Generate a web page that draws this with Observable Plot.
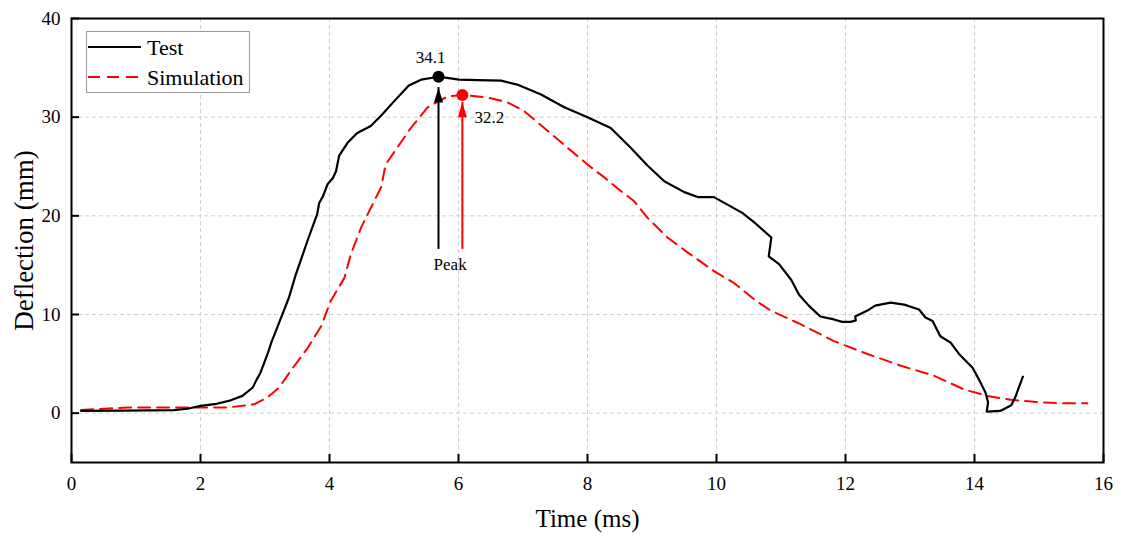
<!DOCTYPE html>
<html>
<head>
<meta charset="utf-8">
<script src="https://cdn.jsdelivr.net/npm/d3@7"></script>
<script src="https://cdn.jsdelivr.net/npm/@observablehq/plot@0.6"></script>
<style>
  html, body { margin: 0; padding: 0; background: white; }
  #wrap { position: relative; width: 1121px; height: 544px; }
  #legend { position: absolute; left: 86px; top: 31px; }
</style>
</head>
<body>
<div id="wrap"></div>
<script>
// ---- data ----
const testX = [0.15,0.8,1.59,1.8,2.0,2.25,2.47,2.65,2.81,2.87,2.93,3.04,3.10,3.19,3.28,3.37,3.43,3.48,3.55,3.66,3.81,3.84,3.90,3.97,4.05,4.10,4.15,4.28,4.43,4.64,4.82,5.00,5.23,5.42,5.69,6.01,6.30,6.66,6.91,7.28,7.64,8.0,8.36,8.67,8.93,9.19,9.50,9.71,9.96,10.40,10.61,10.85,10.81,10.97,11.16,11.28,11.43,11.61,11.82,11.95,12.08,12.16,12.15,12.34,12.46,12.70,12.91,13.14,13.24,13.35,13.47,13.63,13.76,13.97,14.07,14.17,14.21,14.19,14.40,14.57,14.64,14.75];
const testY = [0.23,0.25,0.3,0.45,0.74,0.95,1.3,1.75,2.6,3.4,4.1,6.0,7.2,8.7,10.2,11.7,13.0,14.1,15.4,17.5,20.2,21.3,22.0,23.2,23.8,24.5,26.1,27.4,28.4,29.1,30.3,31.6,33.2,33.8,34.1,33.8,33.75,33.7,33.3,32.3,31.0,30.0,28.9,26.9,25.1,23.5,22.4,21.9,21.9,20.3,19.2,17.8,15.9,15.1,13.5,12.0,10.9,9.8,9.5,9.25,9.25,9.4,9.8,10.4,10.9,11.2,11.0,10.5,9.7,9.35,7.8,7.15,6.0,4.6,3.4,2.1,1.1,0.16,0.23,0.8,1.75,3.7];
const simX = [0.15,0.87,1.64,2.42,2.83,3.04,3.22,3.40,3.66,3.87,4.02,4.23,4.33,4.49,4.64,4.80,4.87,5.05,5.26,5.52,5.83,6.06,6.45,6.76,7.02,7.33,7.69,8.0,8.26,8.52,8.72,8.93,9.24,9.55,9.96,10.27,10.61,10.84,11.31,11.82,12.34,12.86,13.37,13.84,14.20,14.56,14.92,15.34,15.75];
const simY = [0.33,0.57,0.57,0.57,0.9,1.6,2.6,4.3,6.6,8.8,11.4,13.7,16.1,18.8,20.8,22.9,25.2,26.9,28.9,31.0,32.1,32.25,32.0,31.5,30.6,28.9,26.9,25.2,23.9,22.5,21.5,19.8,17.8,16.3,14.4,13.2,11.4,10.4,9.0,7.3,6.0,4.8,3.8,2.4,1.75,1.35,1.15,1.0,1.0];

const seriesNames = ["Test", "Simulation"];
const seriesColors = ["black", "red"];
const peakX = [5.69, 6.06];
const peakY = [34.1, 32.25];
const peakLabels = ["34.1", "32.2"];
const arrowBase = 16.6;
const arrowTip = [33.0, 31.5];
const peakText = "Peak";
const peakTextX = 5.87;
const peakTextY = 15.1;

const xTicks = [0, 2, 4, 6, 8, 10, 12, 14, 16];
const yTicks = [0, 10, 20, 30, 40];
const xGrid = [2, 4, 6, 8, 10, 12, 14];
const yGrid = [0, 10, 20, 30];
const xLabel = "Time (ms)";
const yLabel = "Deflection (mm)";

// ---- tables ----
const test = testX.map((x, i) => ({x, y: testY[i]}));
const sim = simX.map((x, i) => ({x, y: simY[i]}));
const peaks = peakX.map((x, i) => ({x, y: peakY[i], tip: arrowTip[i], base: arrowBase, label: peakLabels[i], color: seriesColors[i]}));

const arrowHead = {
  draw(ctx) { ctx.moveTo(0, 0); ctx.lineTo(4.5, 15); ctx.lineTo(-4.5, 15); ctx.closePath(); }
};

const font = "'Liberation Serif', 'Times New Roman', serif";

const chart = Plot.plot({
  width: 1121,
  height: 544,
  marginTop: 18,
  marginLeft: 71,
  marginRight: 18,
  marginBottom: 82,
  style: {fontFamily: font, fontSize: "19px", background: "white", color: "black"},
  x: {domain: [0, 16]},
  y: {domain: [-5, 40]},
  marks: [
    Plot.gridX(xGrid, {stroke: "#cfcfcf", strokeOpacity: 1, strokeDasharray: "4,3"}),
    Plot.gridY(yGrid, {stroke: "#cfcfcf", strokeOpacity: 1, strokeDasharray: "4,3"}),
    Plot.axisX(xTicks, {tickSize: -8, tickPadding: 22, strokeWidth: 2, label: null, fontSize: 19, fontFamily: font}),
    Plot.axisY(yTicks, {tickSize: -8, tickPadding: 19, strokeWidth: 2, label: null, fontSize: 19, fontFamily: font}),
    Plot.line(sim, {x: "x", y: "y", stroke: seriesColors[1], strokeWidth: 2, strokeDasharray: "12,7"}),
    Plot.line(test, {x: "x", y: "y", stroke: seriesColors[0], strokeWidth: 2.2}),
    Plot.ruleX(peaks, {x: "x", y1: "base", y2: "tip", stroke: "color", strokeWidth: 2}),
    Plot.dot(peaks, {x: "x", y: "tip", symbol: arrowHead, fill: "color", stroke: "none"}),
    Plot.dot(peaks, {x: "x", y: "y", r: 6, fill: "color", stroke: "none"}),
    Plot.text([peaks[0]], {x: "x", y: "y", text: "label", dx: -8, dy: -19, fontSize: 17, fill: "black", fontFamily: font}),
    Plot.text([peaks[1]], {x: "x", y: "y", text: "label", dx: 27, dy: 23, fontSize: 17, fill: "black", fontFamily: font}),
    Plot.text([peakText], {x: () => peakTextX, y: () => peakTextY, text: d => d, fontSize: 17, fill: "black", fontFamily: font}),
    Plot.frame({stroke: "black", strokeWidth: 2}),
    Plot.text([xLabel], {frameAnchor: "bottom", text: d => d, dy: 64, fontSize: 25, fill: "black", fontFamily: font}),
    Plot.text([yLabel], {frameAnchor: "left", textAnchor: "middle", lineAnchor: "middle", text: d => d, dx: -47, rotate: -90, fontSize: 27, fill: "black", fontFamily: font})
  ]
});

const wrap = document.getElementById("wrap");
wrap.appendChild(chart);

// legend inside the plot area
const legend = document.createElement("div");
legend.id = "legend";
const ns = "http://www.w3.org/2000/svg";
const lsvg = document.createElementNS(ns, "svg");
lsvg.setAttribute("width", 165);
lsvg.setAttribute("height", 62);
lsvg.style.display = "block";
const rect = document.createElementNS(ns, "rect");
rect.setAttribute("x", 0.5); rect.setAttribute("y", 0.5);
rect.setAttribute("width", 163); rect.setAttribute("height", 61);
rect.setAttribute("fill", "white"); rect.setAttribute("stroke", "#999"); rect.setAttribute("stroke-width", 1);
lsvg.appendChild(rect);
seriesNames.forEach((name, i) => {
  const yy = 16 + i * 30;
  const ln = document.createElementNS(ns, "line");
  ln.setAttribute("x1", 2); ln.setAttribute("x2", 55);
  ln.setAttribute("y1", yy); ln.setAttribute("y2", yy);
  ln.setAttribute("stroke", seriesColors[i]);
  ln.setAttribute("stroke-width", 2.2);
  if (i === 1) ln.setAttribute("stroke-dasharray", "12,7");
  lsvg.appendChild(ln);
  const tx = document.createElementNS(ns, "text");
  tx.setAttribute("x", 61); tx.setAttribute("y", yy + 8);
  tx.setAttribute("font-family", font);
  tx.setAttribute("font-size", 22);
  tx.setAttribute("fill", "black");
  tx.textContent = name;
  lsvg.appendChild(tx);
});
legend.appendChild(lsvg);
wrap.appendChild(legend);
</script>
</body>
</html>
